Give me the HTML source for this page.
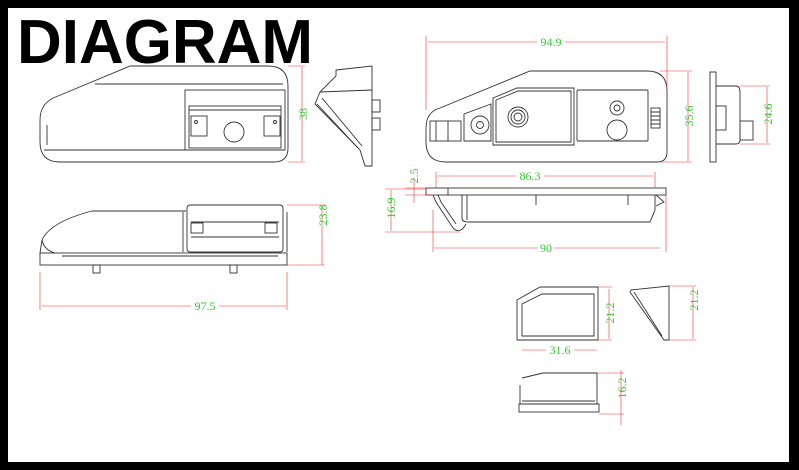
<!DOCTYPE html>
<html><head><meta charset="utf-8"><style>
html,body{margin:0;padding:0;background:#000}
svg{display:block}
.t{font-family:"Liberation Serif",serif;fill:#2ecc2e;font-size:12px}
</style></head><body>
<svg width="799" height="470" viewBox="0 0 799 470" xmlns="http://www.w3.org/2000/svg">
<rect x="0" y="0" width="799" height="470" fill="#000"/>
<rect x="8" y="8" width="781" height="454" fill="#fff"/>
<text x="17" y="63" font-family="Liberation Sans,Arial,sans-serif" font-weight="bold" font-size="62" fill="#000" textLength="296" lengthAdjust="spacingAndGlyphs">DIAGRAM</text>

<g fill="none" stroke="#333" stroke-width="0.9">
<path d="M130,66 L268,66 Q288,66 288,86 L288,148 Q288,162 274,162 L60,162 Q40,162 40,142 L40,120 Q40,102 58,96 Z"/>
<path d="M95,84 L283,84 M44,150 L285,150 M47,125 L47,145"/>
<rect x="185" y="90" width="100" height="60"/>
<rect x="189" y="106" width="92" height="42"/>
<path d="M189,110 L281,110"/>
<rect x="191" y="116" width="16" height="20"/><circle cx="196" cy="122" r="1.5"/>
<rect x="264" y="116" width="16" height="20"/><circle cx="275" cy="122" r="1.5"/>
<circle cx="234" cy="132" r="10"/>
<path d="M336,70 L372,66 L372,166 L365,166 L360,150 L315,104 L320,92 L336,76 Z"/>
<path d="M320,92 L372,90 M317,104 L358,148 M322,98 L362,146"/>
<rect x="372" y="100" width="8" height="12"/><rect x="372" y="118" width="8" height="12"/>
<path d="M92,211 L186,211 M92,211 Q50,222 42,240 L40,253"/>
<path d="M42,240 Q44,250 55,253"/>
<rect x="187" y="205" width="96" height="47" rx="3"/>
<path d="M191,222 L279,222 M191,237 L279,237 M183,212 L183,252 M287,212 L287,252"/>
<rect x="191" y="223" width="12" height="10"/><rect x="265" y="223" width="12" height="10"/>
<rect x="40" y="253" width="247" height="12"/>
<path d="M62,256 L278,256"/>
<rect x="93" y="265" width="7" height="8"/><rect x="230" y="265" width="7" height="8"/>
<path d="M530,71 L647,71 Q667,71 667,91 L667,152 Q667,162 657,162 L446,162 Q426,162 426,142 L426,128 Q426,112 440,108 Z"/>
<rect x="430" y="121" width="31" height="20"/><path d="M436,121 L436,141 M448,121 L448,141"/>
<path d="M464,114 L491,104 L491,141 L464,141 Z"/>
<circle cx="480" cy="125" r="9"/><circle cx="480" cy="125" r="3.5"/>
<path d="M493,98 L517,88 L574,88 L574,145 L493,145 Z"/>
<path d="M496,100 L518,91 L571,91 L571,142 L496,142 Z"/>
<circle cx="518" cy="117" r="10"/><circle cx="518" cy="117" r="7"/><circle cx="518" cy="117" r="4"/>
<rect x="577" y="90" width="71" height="51" rx="1"/>
<circle cx="617" cy="108" r="7"/><circle cx="617" cy="108" r="3"/><circle cx="617" cy="130" r="10"/>
<rect x="651" y="108" width="9" height="20"/><path d="M651,112 L660,112 M651,116 L660,116 M651,120 L660,120 M651,124 L660,124"/>
<rect x="710" y="72" width="6" height="90"/>
<path d="M716,86 L736,86 Q740,86 740,92 L740,140 Q740,144 736,144 L716,144"/>
<rect x="740" y="121" width="13" height="19"/>
<rect x="716" y="106" width="10" height="24"/>
<rect x="426" y="188" width="240" height="7"/>
<path d="M448,188 L448,195"/>
<path d="M462,195 L462,218 Q462,222 468,222 L650,222 L655,210 L655,195"/>
<path d="M433,195 L436,202 L453,228 Q460,235 466,224"/>
<path d="M438,195 L441,202 L456,224"/>
<path d="M467,195 L467,220 M536,195 L536,205 M628,195 L628,205 M656,195 L664,202 L656,206"/>
<path d="M517,300 L540,287 L598,287 L598,340 L517,340 Z"/>
<path d="M522,304 L542,294 L594,294 L594,336 L522,336 Z"/>
<path d="M631,290 L669,286 L669,340 L664,340 L630,292 Z"/>
<path d="M634,292 L662,336"/>
<path d="M522,378 L543,373 L597,373 L597,404 L520,404 L520,385"/>
<rect x="519" y="404" width="80" height="8"/>
<path d="M522,401 L595,401"/>
</g>

<g stroke="#e33" stroke-width="0.6" fill="none">
<path d="M302,67 L302,161 M288,66 L305,66 M288,162 L305,162"/>
<path d="M322,207 L322,265 M287,205 L325,205 M287,265 L325,265"/>
<path d="M42,306 L286,306 M40,272 L40,310 M287,272 L287,310"/>
<path d="M428,42 L665,42 M426,36 L426,110 M667,36 L667,90"/>
<path d="M688,72 L688,161 M660,71 L692,71 M660,162 L692,162"/>
<path d="M767,87 L767,143 M740,86 L770,86 M740,144 L770,144"/>
<path d="M437,176 L653,176 M436,172 L436,188 M655,172 L655,188"/>
<path d="M434,248 L660,248 M433,210 L433,252 M666,195 L666,252"/>
<path d="M414,178 L414,203 M405,188 L426,188 M405,195 L436,195"/>
<path d="M391,190 L391,231 M385,189 L426,189 M385,232 L460,232"/>
<path d="M609,289 L609,339 M598,287 L612,287 M598,340 L612,340"/>
<path d="M522,350 L597,350"/>
<path d="M693,287 L693,339 M669,286 L696,286 M669,340 L696,340"/>
<path d="M621,370 L621,425 M597,373 L624,373 M599,414 L624,414"/>
</g>
<g class="t">
<text transform="translate(307,114) rotate(-90)" text-anchor="middle">38</text>
<text transform="translate(327,215) rotate(-90)" text-anchor="middle">23.8</text>
<rect x="191" y="300" width="28" height="12" fill="#fff"/>
<text x="205" y="310" text-anchor="middle">97.5</text>
<rect x="537" y="36" width="28" height="12" fill="#fff"/>
<text x="551" y="46" text-anchor="middle">94.9</text>
<text transform="translate(693,116) rotate(-90)" text-anchor="middle">35.6</text>
<text transform="translate(772,114) rotate(-90)" text-anchor="middle">24.6</text>
<rect x="516" y="170" width="28" height="12" fill="#fff"/>
<text x="530" y="180" text-anchor="middle">86.3</text>
<rect x="538" y="242" width="16" height="12" fill="#fff"/>
<text x="546" y="252" text-anchor="middle">90</text>
<text transform="translate(418,176) rotate(-90)" text-anchor="middle">2.5</text>
<text transform="translate(395,208) rotate(-90)" text-anchor="middle">16.9</text>
<text transform="translate(614,313) rotate(-90)" text-anchor="middle">21.2</text>
<rect x="546" y="344" width="28" height="12" fill="#fff"/>
<text x="560" y="354" text-anchor="middle">31.6</text>
<text transform="translate(698,300) rotate(-90)" text-anchor="middle">21.2</text>
<text transform="translate(626,388) rotate(-90)" text-anchor="middle">16.2</text>
</g>
</svg>
</body></html>
